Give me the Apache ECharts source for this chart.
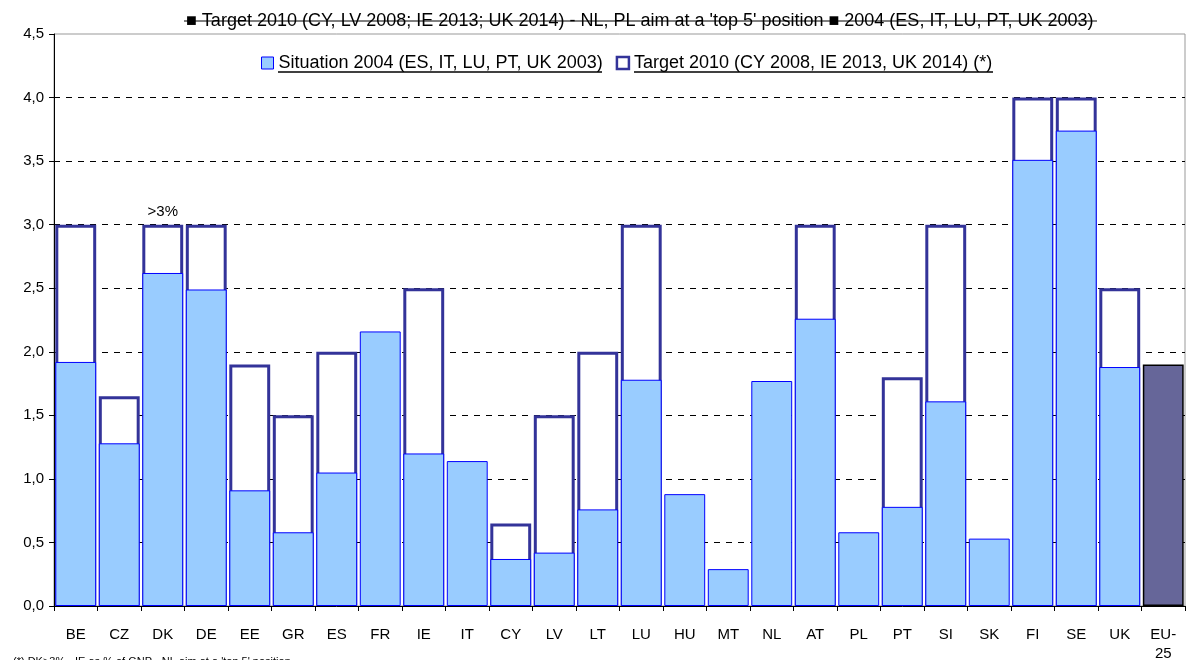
<!DOCTYPE html>
<html>
<head>
<meta charset="utf-8">
<script src="https://cdn.jsdelivr.net/npm/echarts@6/dist/echarts.min.js"></script>
<style>
  html, body { margin: 0; padding: 0; background: #fff; }
  #chart { width: 1192px; height: 660px; }
</style>
</head>
<body>
<div id="chart"></div>
<script>
var countries = ['BE', 'CZ', 'DK', 'DE', 'EE', 'GR', 'ES', 'FR', 'IE', 'IT', 'CY', 'LV', 'LT', 'LU',
    'HU', 'MT', 'NL', 'AT', 'PL', 'PT', 'SI', 'SK', 'FI', 'SE', 'UK', 'EU-25'];
var situation2004 = [1.92, 1.28, 2.62, 2.49, 0.91, 0.58, 1.05, 2.16, 1.20, 1.14, 0.37, 0.42, 0.76, 1.78,
    0.88, 0.29, 1.77, 2.26, 0.58, 0.78, 1.61, 0.53, 3.51, 3.74, 1.88, 1.90];
var target2010 = [3.0, 1.65, 3.0, 3.0, 1.9, 1.5, 2.0, null, 2.5, null, 0.65, 1.5, 2.0, 3.0,
    null, null, null, 3.0, null, 1.8, 3.0, null, 4.0, 4.0, 2.5, null];
var sitName = 'Situation 2004 (ES, IT, LU, PT, UK 2003)';
var tgtName = 'Target 2010 (CY 2008, IE 2013, UK 2014) (*)';
var titleText = "\u25A0 Target 2010 (CY, LV 2008; IE 2013; UK 2014) - NL, PL aim at a 'top 5' position \u25A0 2004 (ES, IT, LU, PT, UK 2003)";
var footnote = "(*) DK>3% - IE as % of GNP - NL aim at a 'top 5' position";

var myChart = echarts.init(document.getElementById('chart'));

var sitData = situation2004.map(function (v, i) {
    if (countries[i] === 'EU-25') {
        return { value: v, itemStyle: { color: '#666699', borderColor: '#000', borderWidth: 1.5 } };
    }
    return v;
});

var option = {
    animation: false,
    textStyle: { fontFamily: 'Liberation Sans, Arial, sans-serif' },
    title: [{
        text: titleText,
        left: 181,
        top: 7,
        textStyle: { fontSize: 18, fontWeight: 'normal', color: '#000' }
    }, {
        text: footnote,
        left: 8,
        top: 651,
        textStyle: { fontSize: 11, fontWeight: 'normal', color: '#000' }
    }],
    graphic: [{
        // strike line through the heading, as in the original
        type: 'line',
        shape: { x1: 184, y1: 21, x2: 1097, y2: 21 },
        style: { stroke: '#000', lineWidth: 1 }
    }, {
        // legend underlines
        type: 'line',
        shape: { x1: 278, y1: 72, x2: 602, y2: 72 },
        style: { stroke: '#000', lineWidth: 1.5 }
    }, {
        type: 'line',
        shape: { x1: 634, y1: 72, x2: 993, y2: 72 },
        style: { stroke: '#000', lineWidth: 1.5 }
    }],
    legend: {
        top: 49,
        left: 256,
        itemWidth: 12,
        itemHeight: 12,
        itemGap: 13,
        textStyle: { fontSize: 18, color: '#000' },
        data: [
            { name: sitName, icon: 'rect', itemStyle: { color: '#99ccff', borderColor: '#0000ff', borderWidth: 1 } },
            { name: tgtName, icon: 'rect', itemStyle: { color: '#fff', borderColor: '#333399', borderWidth: 2.5 } }
        ]
    },
    grid: {
        left: 54,
        right: 7,
        top: 34,
        bottom: 54,
        outerBoundsMode: 'none',
        show: true,
        borderColor: '#999',
        borderWidth: 1
    },
    xAxis: {
        type: 'category',
        data: countries,
        axisLine: { lineStyle: { color: '#000', width: 1 } },
        axisTick: { show: true, length: 5, lineStyle: { color: '#000' } },
        axisLabel: {
            color: '#000',
            fontSize: 15,
            margin: 19,
            lineHeight: 19,
            interval: 0,
            formatter: function (v) { return v === 'EU-25' ? 'EU-\n25' : v; }
        }
    },
    yAxis: {
        type: 'value',
        min: 0,
        max: 4.5,
        interval: 0.5,
        axisLine: { show: true, lineStyle: { color: '#000', width: 1 } },
        axisTick: { show: true, length: 5, lineStyle: { color: '#000' } },
        axisLabel: {
            color: '#000',
            fontSize: 15,
            margin: 10,
            formatter: function (v) { return v.toFixed(1).replace('.', ','); }
        },
        splitLine: { showMinLine: false, showMaxLine: false, lineStyle: { color: '#000', type: [6, 6], width: 1 } }
    },
    series: [{
        name: tgtName,
        type: 'bar',
        data: target2010,
        barCategoryGap: '6%',
        barGap: '-100%',
        itemStyle: { color: '#fff', borderColor: '#333399', borderWidth: 3 },
        label: {
            show: true,
            position: 'top',
            color: '#000',
            fontSize: 15,
            distance: 5,
            formatter: function (p) { return p.name === 'DK' ? '>3%' : ''; }
        },
        z: 2
    }, {
        name: sitName,
        type: 'bar',
        data: sitData,
        barCategoryGap: '6%',
        barGap: '-100%',
        itemStyle: { color: '#99ccff', borderColor: '#0000ff', borderWidth: 1 },
        z: 3
    }]
};
myChart.setOption(option);
window.addEventListener('resize', function () {
    myChart.resize();
});
</script>
</body>
</html>
